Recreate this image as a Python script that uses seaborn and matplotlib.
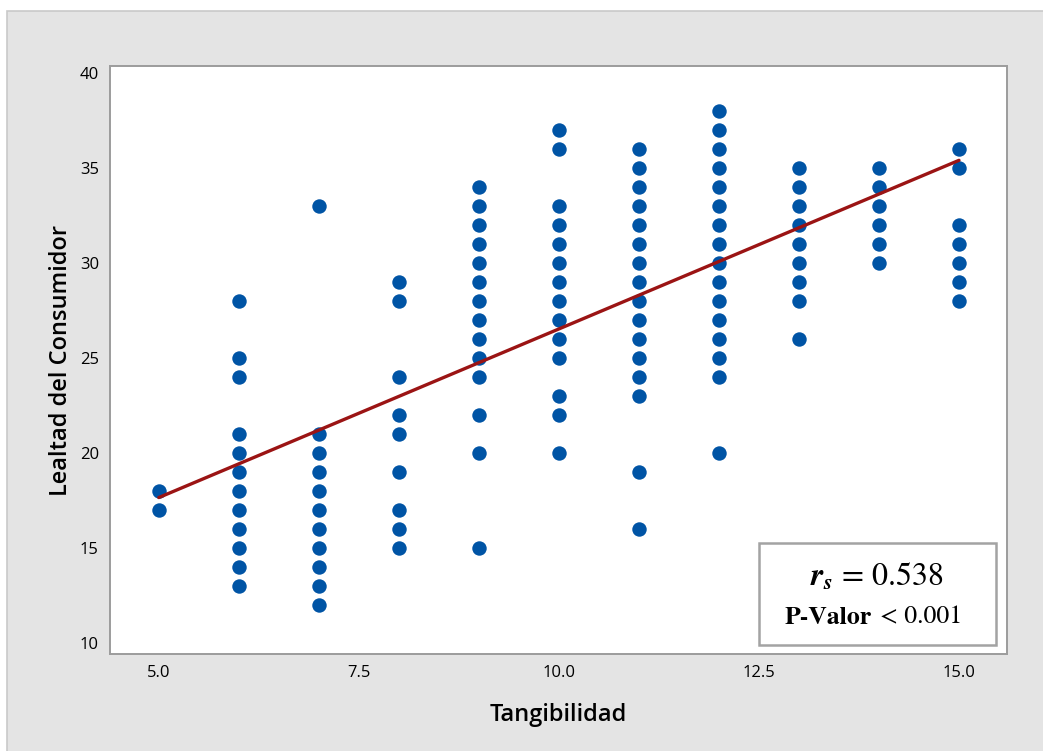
import numpy as np
import pandas as pd
import matplotlib
matplotlib.use("Agg")
import matplotlib.pyplot as plt
from matplotlib.patches import Rectangle
import seaborn as sns

# ---- data ----
tang_levels = [5, 6, 7, 8, 9, 10, 11, 12, 13, 14, 15]
lealtad_5 = [17, 18]
lealtad_6 = [13, 14, 15, 16, 17, 18, 19, 20, 21, 24, 25, 28]
lealtad_7 = [12, 13, 14, 15, 16, 17, 18, 19, 20, 21, 33]
lealtad_8 = [15, 16, 17, 19, 21, 22, 24, 28, 29]
lealtad_9 = [15, 20, 22, 24, 25, 26, 27, 28, 29, 30, 31, 32, 33, 34]
lealtad_10 = [20, 22, 23, 25, 26, 27, 28, 29, 30, 31, 32, 33, 36, 37]
lealtad_11 = [16, 19, 23, 24, 25, 26, 27, 28, 29, 30, 31, 32, 33, 34, 35, 36]
lealtad_12 = [20, 24, 25, 26, 27, 28, 29, 30, 31, 32, 33, 34, 35, 36, 37, 38]
lealtad_13 = [26, 28, 29, 30, 31, 32, 33, 34, 35]
lealtad_14 = [30, 31, 32, 33, 34, 35]
lealtad_15 = [28, 29, 30, 31, 32, 35, 36]

fit_intercept = 8.78
fit_slope = 1.775

x_ticks = [5.0, 7.5, 10.0, 12.5, 15.0]
y_ticks = [10, 15, 20, 25, 30, 35, 40]
x_label = "Tangibilidad"
y_label = "Lealtad del Consumidor"
rs_text = r"$\mathbfit{r}_{\mathbfit{s}}$ = 0.538"
p_text_bold = "P-Valor"
p_text_rest = "< 0.001"

columns = [lealtad_5, lealtad_6, lealtad_7, lealtad_8, lealtad_9, lealtad_10,
           lealtad_11, lealtad_12, lealtad_13, lealtad_14, lealtad_15]
rows = []
for xv, ys in zip(tang_levels, columns):
    for yv in ys:
        rows.append((xv, yv))
df = pd.DataFrame(rows, columns=[x_label, y_label])

x_fit = np.array([min(tang_levels), max(tang_levels)], dtype=float)
fit_df = pd.DataFrame({"x": x_fit, "y": fit_intercept + fit_slope * x_fit})

# ---- figure ----
sns.set_style("white")
plt.rcParams["font.family"] = ["Open Sans", "DejaVu Sans"]
plt.rcParams["mathtext.fontset"] = "stix"

W, H = 1043, 751
fig = plt.figure(figsize=(W / 100, H / 100), dpi=100)
fig.patch.set_facecolor("white")
fig.add_artist(Rectangle((7 / W, -0.01), 1.02, 1 - 11 / H + 0.01,
                         transform=fig.transFigure, facecolor="#e4e4e4",
                         edgecolor="#c9c9c9", linewidth=1.2, zorder=0))

ax = fig.add_axes([110 / W, 1 - 654 / H, (1007 - 110) / W, (654 - 66) / H])
ax.set_facecolor("white")

sns.scatterplot(data=df, x=x_label, y=y_label, ax=ax, color="#0054a5",
                s=108, linewidth=0, zorder=3)
sns.lineplot(data=fit_df, x="x", y="y", ax=ax, color="#9b1414",
             linewidth=2.4, zorder=4)

ax.set_xlim(4.39, 15.6)
ax.set_ylim(9.42, 40.37)
ax.set_xticks(x_ticks)
ax.set_xticklabels([f"{v:.1f}" for v in x_ticks])
ax.set_yticks(y_ticks)
ax.set_yticklabels([str(v) for v in y_ticks])

for s in ax.spines.values():
    s.set_color("#9c9c9c")
    s.set_linewidth(1.4)
    s.set_visible(True)
ax.tick_params(axis="both", direction="out", length=4, width=1,
               color="#9c9c9c", labelsize=12, labelcolor="black", pad=4)

ax.set_xlabel(x_label, fontsize=17, labelpad=16, color="black",
              fontweight="semibold")
ax.set_ylabel(y_label, fontsize=17, labelpad=5, color="black",
              fontweight="semibold")

# annotation box
ax.add_patch(Rectangle((0.7235, 0.0153), 0.9877 - 0.7235, 0.1888 - 0.0153,
                       transform=ax.transAxes, facecolor="white",
                       edgecolor="#a3a3a3", linewidth=1.8, zorder=5))
ax.text(0.855, 0.130, rs_text, transform=ax.transAxes, ha="center",
        va="center", fontsize=23, family="STIXGeneral", zorder=6,
        color="black")
ax.text(0.8495, 0.062, p_text_bold, transform=ax.transAxes, ha="right",
        va="center", fontsize=18.5, family="STIXGeneral", weight="bold",
        zorder=6, color="black")
ax.text(0.858, 0.062, p_text_rest, transform=ax.transAxes, ha="left",
        va="center", fontsize=18.5, family="STIXGeneral", zorder=6,
        color="black")

fig.savefig("out.png", dpi=100, facecolor=fig.get_facecolor())
